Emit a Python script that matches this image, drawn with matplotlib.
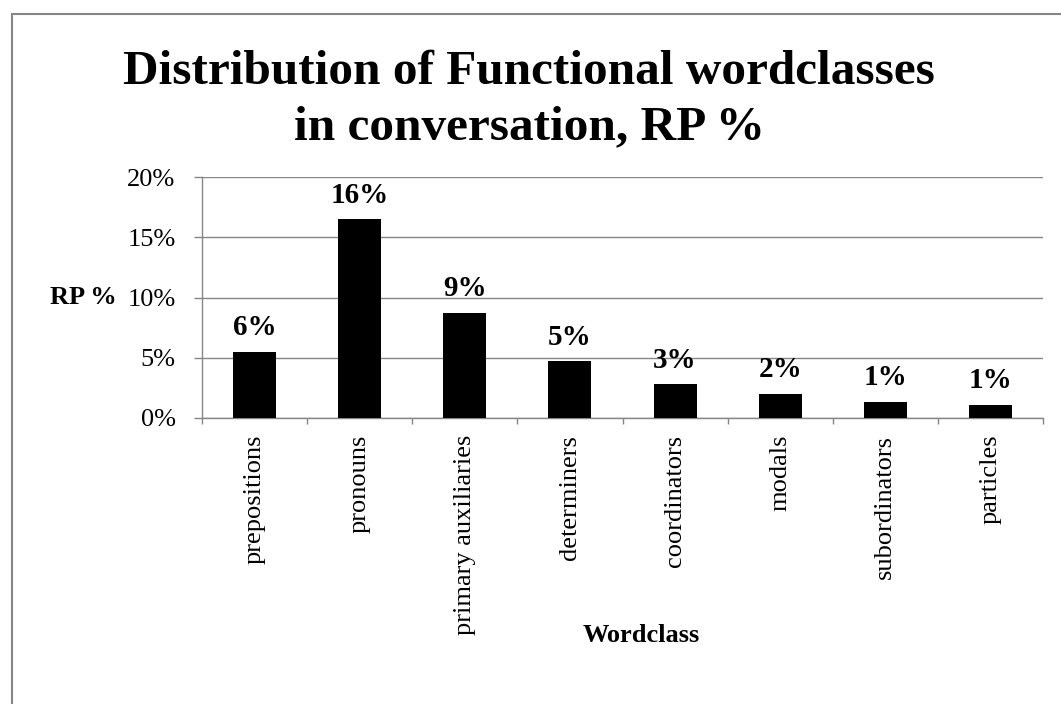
import matplotlib
matplotlib.use("Agg")
import matplotlib.pyplot as plt
from matplotlib.patches import Rectangle
from matplotlib.ticker import FuncFormatter, MultipleLocator

categories = ["prepositions", "pronouns", "primary auxiliaries", "determiners",
              "coordinators", "modals", "subordinators", "particles"]
values = [5.5, 16.5, 8.7, 4.7, 2.8, 2.0, 1.35, 1.1]
labels = ["6%", "16%", "9%", "5%", "3%", "2%", "1%", "1%"]

plt.rcParams['font.family'] = ['Liberation Serif', 'DejaVu Serif']

fig = plt.figure(figsize=(10.61, 7.04), dpi=100)
# outer chart border (only left/top visible)
fig.patches.append(Rectangle((12/1061, -0.05), 1.2, 1 - 14/704 + 0.05,
                             transform=fig.transFigure, fill=False,
                             edgecolor='#868686', linewidth=1.5))

ax = fig.add_axes([202/1061, 1 - 418/704, (1043 - 202)/1061, (418 - 177)/704])
x = list(range(len(categories)))
ax.bar(x, values, width=0.41, color='black', zorder=3)
for xi, v, lab in zip(x, values, labels):
    ax.annotate(lab, (xi, v), xytext=(0, 12), textcoords='offset points',
                ha='center', va='baseline', fontsize=21, fontweight='bold')

ax.set_xlim(-0.5, len(categories) - 0.5)
ax.set_ylim(0, 20)
ax.yaxis.set_major_locator(MultipleLocator(5))
ax.yaxis.set_major_formatter(FuncFormatter(lambda v, p: f"{v:.0f}%"))
ax.grid(axis='y', color='#868686', linewidth=1, zorder=0)
ax.set_axisbelow(True)

ax.set_xticks(x)
ax.set_xticklabels(categories, rotation=90, fontsize=19)
ax.set_xticks([i - 0.5 for i in range(len(categories) + 1)], minor=True)
ax.tick_params(axis='x', which='major', length=0, pad=12)
ax.tick_params(axis='x', which='minor', length=4.5, color='#868686', width=1)
ax.tick_params(axis='y', length=6, color='#868686', width=1, labelsize=19, pad=13)

for s in ['top', 'right']:
    ax.spines[s].set_visible(False)
for s in ['left', 'bottom']:
    ax.spines[s].set_color('#868686')
    ax.spines[s].set_linewidth(1)

fig.text(83/1061, 1 - 298/704, "RP %", ha='center', va='center',
         fontsize=19, fontweight='bold')
fig.text(641/1061, 1 - 635/704, "Wordclass", ha='center', va='center',
         fontsize=19, fontweight='bold')
fig.text(529/1061, 1 - 84/704, "Distribution of Functional wordclasses",
         ha='center', va='baseline', fontsize=35.5, fontweight='bold')
fig.text(529/1061, 1 - 139/704, "in conversation, RP %",
         ha='center', va='baseline', fontsize=35.5, fontweight='bold')

fig.savefig("out.png", dpi=100)
